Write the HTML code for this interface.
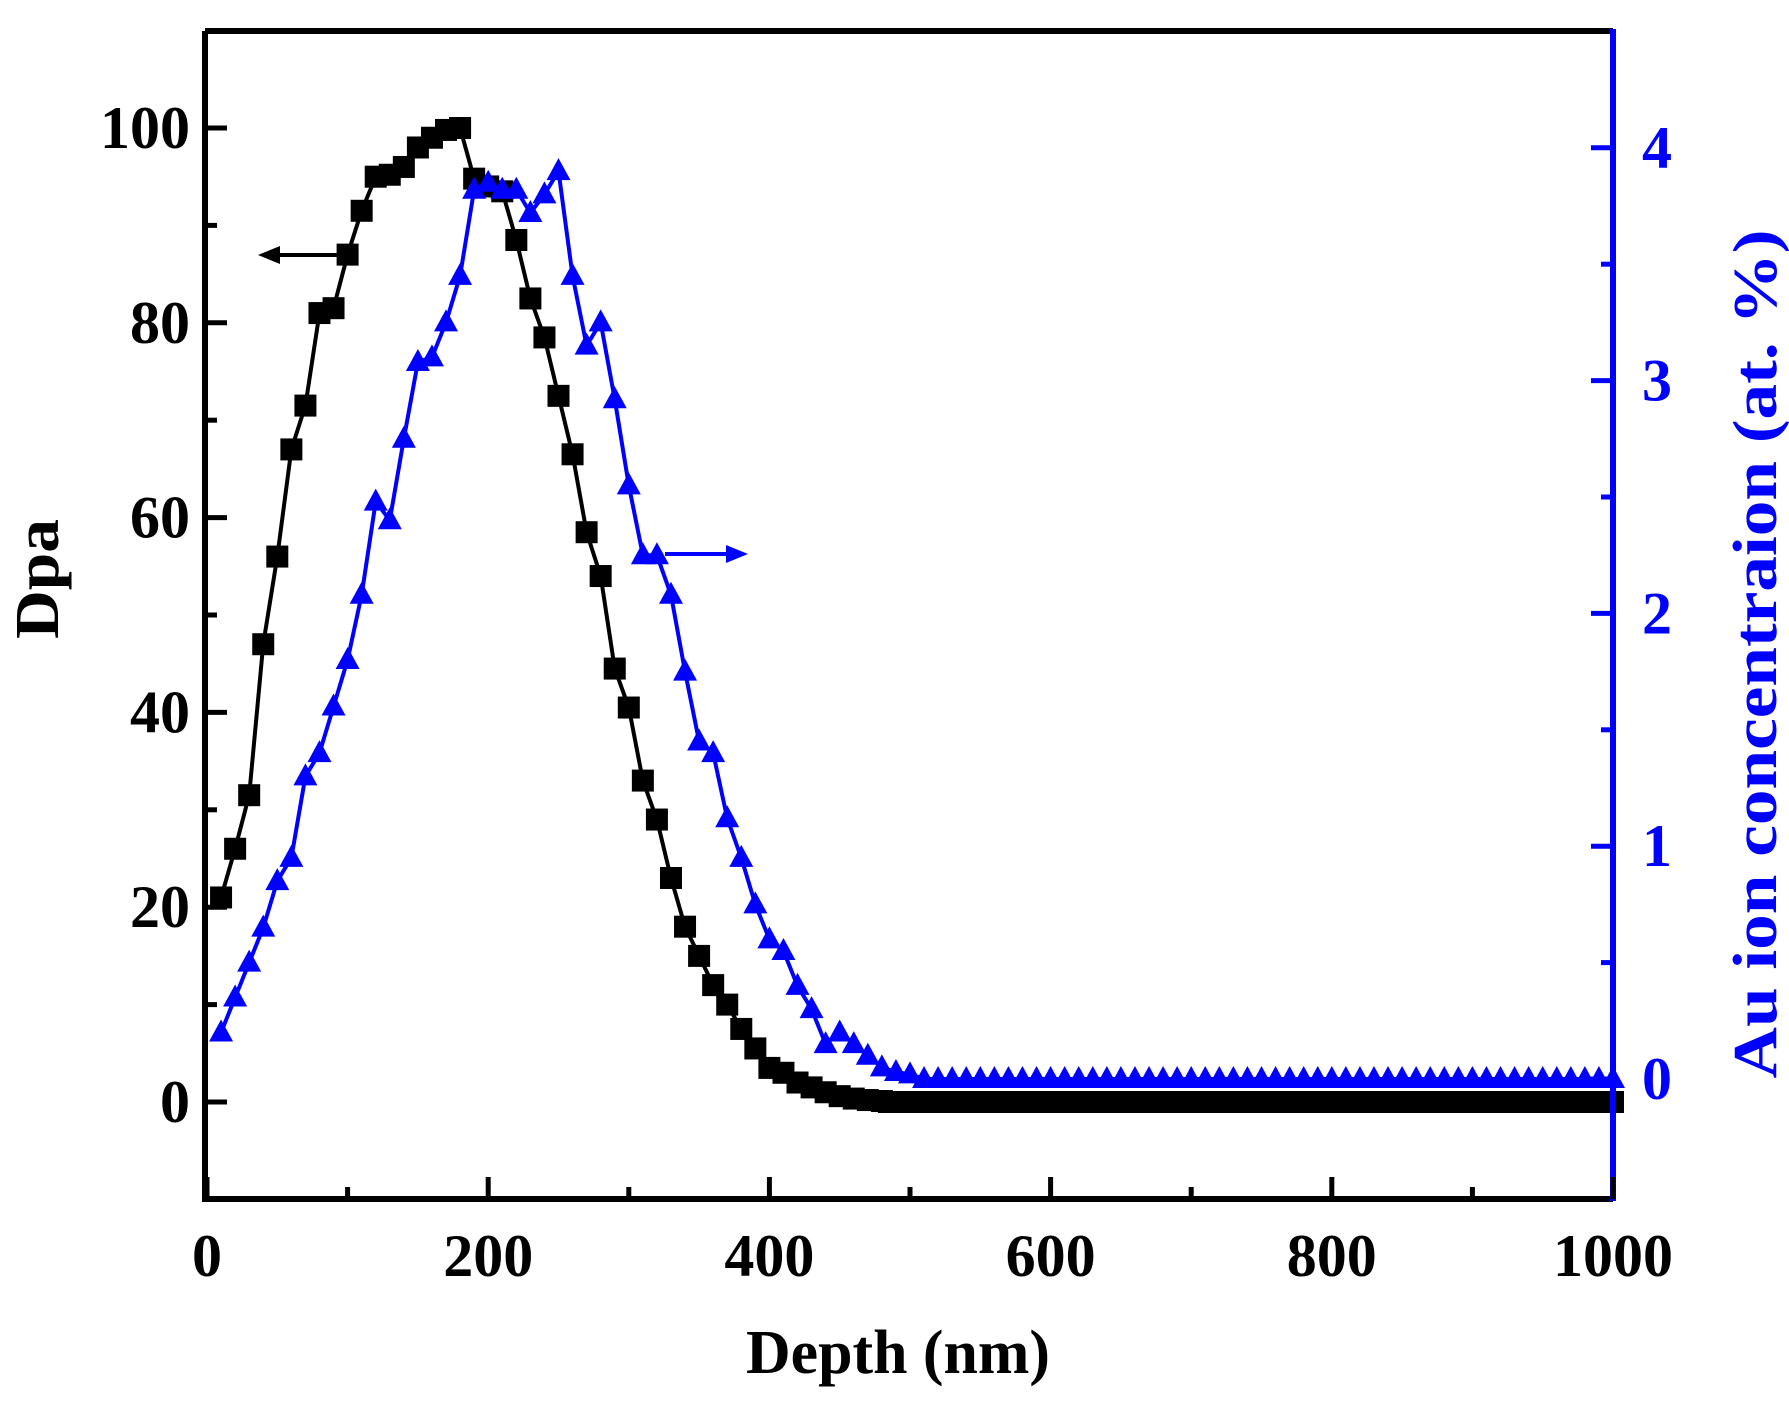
<!DOCTYPE html>
<html><head><meta charset="utf-8"><style>
html,body{margin:0;padding:0;background:#fff;}
svg{display:block;}
text{font-family:"Liberation Serif",serif;font-weight:bold;}
</style></head><body>
<svg id="s" width="1789" height="1409" xmlns="http://www.w3.org/2000/svg"></svg>
<script>
const X=v=>207+v*1.406, Y=v=>1102-v*9.74, R=v=>1079-v*232.8;
const d=[[10,21],[20,26],[30,31.5],[40,47],[50,56],[60,67],[70,71.5],[80,81],[90,81.5],[100,87],[110,91.5],[120,95],[130,95.2],[140,96],[150,98],[160,99],[170,99.8],[180,100],[190,94.8],[200,94],[210,93.5],[220,88.5],[230,82.5],[240,78.5],[250,72.5],[260,66.5],[270,58.5],[280,54],[290,44.5],[300,40.5],[310,33],[320,29],[330,23],[340,18],[350,15],[360,12],[370,10],[380,7.5],[390,5.5],[400,3.5],[410,3],[420,2],[430,1.5],[440,1],[450,0.6],[460,0.35],[470,0.2],[480,0.1]];
for(let x=485;x<=1000;x+=5)d.push([x,0]);
const t=[[10,0.2],[20,0.35],[30,0.5],[40,0.65],[50,0.85],[60,0.95],[70,1.3],[80,1.4],[90,1.6],[100,1.8],[110,2.08],[120,2.48],[130,2.4],[140,2.75],[150,3.08],[160,3.1],[170,3.25],[180,3.45],[190,3.82],[200,3.85],[210,3.82],[220,3.82],[230,3.72],[240,3.8],[250,3.9],[260,3.45],[270,3.15],[280,3.25],[290,2.92],[300,2.55],[310,2.25],[320,2.25],[330,2.08],[340,1.75],[350,1.45],[360,1.4],[370,1.12],[380,0.95],[390,0.75],[400,0.6],[410,0.55],[420,0.4],[430,0.3],[440,0.15],[450,0.2],[460,0.15],[470,0.1],[480,0.05],[490,0.03],[500,0.02]];
for(let x=510;x<=1000;x+=10)t.push([x,0]);
let h='';
h+=`<polyline fill="none" stroke="#0000ff" stroke-width="4" points="${t.map(p=>X(p[0])+','+R(p[1])).join(' ')}"/>`;
h+=`<polyline fill="none" stroke="#000" stroke-width="4" points="${d.map(p=>X(p[0])+','+Y(p[1])).join(' ')}"/>`;
d.forEach(p=>{h+=`<rect x="${X(p[0])-11}" y="${Y(p[1])-11}" width="22" height="22" fill="#000"/>`;});
t.forEach(p=>{const x=X(p[0]),y=R(p[1]);h+=`<polygon points="${x-12},${y+9} ${x+12},${y+9} ${x},${y-13}" fill="#0000ff"/>`;});
h+=`<line x1="268" y1="255" x2="344" y2="255" stroke="#000" stroke-width="4"/><polygon points="258,255 280,246 280,264" fill="#000"/>`;
h+=`<line x1="665" y1="554" x2="738" y2="554" stroke="#0000ff" stroke-width="4"/><polygon points="748,554 726,545 726,563" fill="#0000ff"/>`;
h+=`<path d="M205,31 H1613 M205,31 V1199 H1613" fill="none" stroke="#000" stroke-width="6"/>`;
h+=`<line x1="1613" y1="29" x2="1613" y2="1201" stroke="#0000ff" stroke-width="6"/>`;
for(let v=0;v<=1000;v+=100){const x=X(v),L=v%200==0?22:12;h+=`<line x1="${x}" y1="1199" x2="${x}" y2="${1199-L}" stroke="#000" stroke-width="5"/>`;
 if(v%200==0)h+=`<text x="${x}" y="1276" font-size="60" text-anchor="middle">${v}</text>`;}
for(let v=0;v<=100;v+=10){const y=Y(v),L=v%20==0?22:12;h+=`<line x1="205" y1="${y}" x2="${205+L}" y2="${y}" stroke="#000" stroke-width="5"/>`;
 if(v%20==0)h+=`<text x="190" y="${y+20}" font-size="60" text-anchor="end">${v}</text>`;}
for(let v=0;v<=4;v+=0.5){const y=R(v),L=v%1==0?22:12;h+=`<line x1="1613" y1="${y}" x2="${1613-L}" y2="${y}" stroke="#0000ff" stroke-width="5"/>`;
 if(v%1==0)h+=`<text x="1642" y="${y+20}" font-size="60" fill="#0000ff">${v}</text>`;}
h+=`<text x="898" y="1373" font-size="62" text-anchor="middle" textLength="304" lengthAdjust="spacingAndGlyphs">Depth (nm)</text>`;
h+=`<text transform="translate(58,579) rotate(-90)" font-size="62" text-anchor="middle" textLength="120" lengthAdjust="spacingAndGlyphs">Dpa</text>`;
h+=`<text transform="translate(1776,654) rotate(-90)" font-size="62" text-anchor="middle" fill="#0000ff" textLength="849" lengthAdjust="spacingAndGlyphs">Au ion concentraion (at. %)</text>`;
document.getElementById('s').innerHTML=h;
</script>
</body></html>
